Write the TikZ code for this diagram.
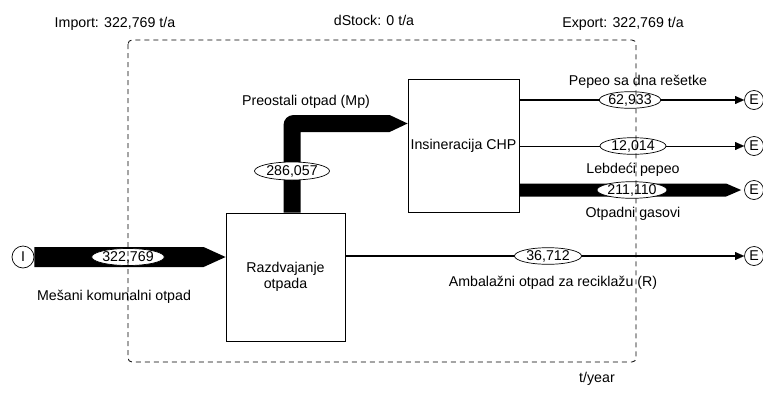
\documentclass[tikz,border=0pt]{standalone}
\usepackage{fontspec}
\setmainfont{Liberation Sans}
\usetikzlibrary{arrows.meta,shapes.geometric,calc}
\begin{document}
\begin{tikzpicture}[x=1pt,y=-1pt,
  font=\fontsize{14.2}{16}\selectfont,
  proc/.style={draw,line width=0.8pt,fill=white,align=center,inner sep=0pt},
  val/.style={ellipse,draw,line width=0.7pt,fill=white,inner sep=0pt},
  term/.style={circle,draw,line width=0.7pt,inner sep=0pt},
  lbl/.style={inner sep=0pt},
  tarr/.style={-{Triangle[length=9pt,width=8pt,line width=0.1pt]}},
]
\useasboundingbox (0,0) rectangle (763,394);

% processes
\node[proc, minimum width=119pt, minimum height=128pt] (raz) at (285.5,277) {Razdvajanje\\otpada};
\node[proc, minimum width=111pt, minimum height=133pt] (ins) at (463.5,145.5) {Insineracija CHP};

% terminals
\node[term, minimum size=22pt] (I) at (23,257) {I};
\node[term, minimum size=19pt] (e1) at (754,100) {E};
\node[term, minimum size=19pt] (e2) at (754,146) {E};
\node[term, minimum size=19pt] (e3) at (754,190) {E};
\node[term, minimum size=19pt] (e4) at (754,256) {E};

% thick flows
\fill let \p1=(I.east), \p2=(raz.west) in
  (\x1,\y1+10pt) -- (\x2-22pt,\y1+10pt) -- (\x2,\y1) -- (\x2-22pt,\y1-10pt) -- (\x1,\y1-10pt) -- cycle;

\fill let \p1=(raz.north), \p2=($(ins.west)+(0,-22)$) in
  (\x1-2pt,\y1) [rounded corners=10pt] -- (\x1-2pt,\y2+8.5pt) [sharp corners] -- (\x2-18pt,\y2+8.5pt)
  -- (\x2,\y2) -- (\x2-18pt,\y2-8.5pt) -- (\x1+15pt,\y2-8.5pt) -- (\x1+15pt,\y1) -- cycle;

\fill let \p1=(ins.east), \p2=(e3.west) in
  (\x1,\y2+6.5pt) -- (\x2-18pt,\y2+6.5pt) -- (\x2-3pt,\y2) -- (\x2-18pt,\y2-6.5pt) -- (\x1,\y2-6.5pt) -- cycle;

% thin flows
\draw[line width=2.6pt, tarr] (ins.east |- e1) -- (e1.west);
\draw[line width=0.8pt, tarr] (ins.east |- e2) -- (e2.west);
\draw[line width=1.8pt, tarr] (raz.east |- e4) -- (e4.west);

% values
\node[val, minimum width=71pt, minimum height=17pt] (v1) at (128,257) {322,769};
\node[val, minimum width=75pt, minimum height=18pt] (v2) at (292,171) {286,057};
\node[val, minimum width=56pt, minimum height=16pt] (v3) at (630,100) {62,933};
\node[val, minimum width=66pt, minimum height=15pt] (v4) at (633,146) {12,014};
\node[val, minimum width=70pt, minimum height=15pt] (v5) at (632,190) {211,110};
\node[val, minimum width=67pt, minimum height=16pt] (v6) at (548,256) {36,712};

% labels
\node[lbl] (l1) at (114,297) {Mešani komunalni otpad};
\node[lbl] (l2) at (306,102) {Preostali otpad (Mp)};
\node[lbl] (l3) at (638,82) {Pepeo sa dna rešetke};
\node[lbl] (l4) at (633,170) {Lebdeći pepeo};
\node[lbl] (l5) at (633,214) {Otpadni gasovi};
\node[lbl] (l6) at (553,283) {Ambalažni otpad za reciklažu (R)};

\node[lbl] (imp) at (115,24) {Import: 322,769 t/a};
\node[lbl] (dst) at (374,20) {dStock: 0 t/a};
\node[lbl] (exp) at (623,24) {Export: 322,769 t/a};
\node[lbl] (unit) at (597,379) {t/year};

% system boundary
\draw[line width=0.8pt, dash pattern=on 5pt off 4pt, rounded corners=4pt] (128,40) rectangle (636,362);
\end{tikzpicture}
\end{document}
